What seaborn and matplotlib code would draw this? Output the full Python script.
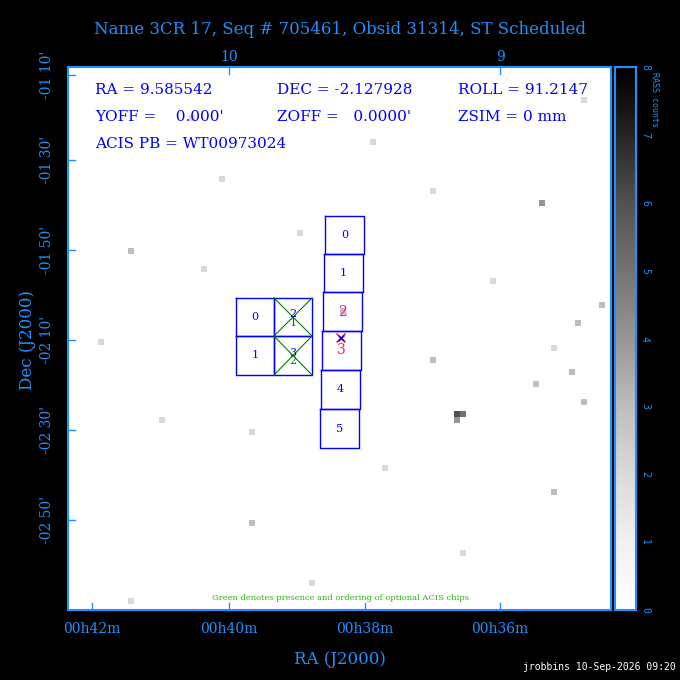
import numpy as np
import matplotlib
matplotlib.use("Agg")
import matplotlib.pyplot as plt
import seaborn as sns

# ---- data ----
ra_labels = ["00h42m", "00h40m", "00h38m", "00h36m"]
ra_label_px = [92, 229, 365, 500]
dec_labels = ["-01 10'", "-01 30'", "-01 50'", "-02 10'", "-02 30'", "-02 50'"]
dec_label_px = [75, 160, 250, 340, 430, 520]
top_labels = ["10", "9"]
top_label_px = [229, 500]
cbar_ticks = [0, 1, 2, 3, 4, 5, 6, 7, 8]
# notable RASS count pixels: (row, col, counts) on a 90x90 grid
bright_cells = [(57, 64, 6), (57, 65, 5), (58, 64, 4), (40, 45, 3), (22, 78, 4), (55, 85, 3),
                (30, 10, 3), (75, 30, 3), (12, 50, 2), (48, 60, 3), (70, 80, 3), (18, 25, 2),
                (85, 40, 2), (35, 70, 2), (58, 15, 2), (80, 65, 2), (5, 85, 2), (45, 5, 2),
                (66, 52, 2), (27, 38, 2), (52, 77, 3), (8, 20, 2), (88, 10, 2), (39, 88, 3),
                (42, 84, 3), (50, 83, 3), (46, 80, 2), (60, 30, 2), (20, 60, 2), (33, 22, 2)]
# chip layouts (reference pixel corners: x0, y0, x1, y1)
acis_i = [("0", 236, 298, 274, 336), ("2", 274, 298, 312, 336),
          ("1", 236, 336, 274, 375), ("3", 274, 336, 312, 375)]
acis_s = [("0", 325, 216, 364, 254), ("1", 324, 254, 363, 292), ("2", 323, 292, 362, 331),
          ("3", 322, 331, 361, 370), ("4", 321, 370, 360, 409), ("5", 320, 409, 359, 448)]
s_label_colors = ["blue", "blue", "#ff1493", "#ff1493", "blue", "blue"]

N = 90
grid = np.zeros((N, N))
for r, c, v in bright_cells:
    grid[r, c] = v

BLUE = "#1e90ff"
W = 680
fig = plt.figure(figsize=(6.8, 6.8), dpi=100, facecolor="black")
plt.rcParams["font.family"] = ["DejaVu Serif"]

def ax_rect(x0, y0, x1, y1):
    return [x0 / W, 1 - y1 / W, (x1 - x0) / W, (y1 - y0) / W]

ax = fig.add_axes(ax_rect(68, 67, 611, 610))
sns.heatmap(grid, ax=ax, cmap="Greys", vmin=0, vmax=8, cbar=False, xticklabels=False, yticklabels=False)

cax = fig.add_axes(ax_rect(615, 67, 636, 610))
sns.heatmap(np.linspace(0, 8, 200)[::-1].reshape(-1, 1), ax=cax, cmap="Greys", vmin=0, vmax=8,
            cbar=False, xticklabels=False, yticklabels=False)
for a in (ax, cax):
    for s in a.spines.values():
        s.set_visible(True); s.set_color(BLUE); s.set_linewidth(1.5)
for t in cbar_ticks:
    y = 610 - t * (543 / 8)
    fig.text(645 / W, 1 - y / W, str(t), color=BLUE, fontsize=7, rotation=270, ha="center", va="center",
             family="DejaVu Sans Mono")
fig.text(655 / W, 1 - 100 / W, "RASS counts", color=BLUE, fontsize=6, rotation=270, ha="center", va="center",
         family="DejaVu Sans Mono")

ov = fig.add_axes(ax_rect(68, 67, 611, 610), facecolor="none")
ov.set_xlim(68, 611); ov.set_ylim(610, 67)
ov.axis("off")
for lab, x0, y0, x1, y1 in acis_i:
    ov.plot([x0, x1, x1, x0, x0], [y0, y0, y1, y1, y0], color="blue", lw=1)
    if lab in ("2", "3"):
        ov.plot([x0, x1], [y0, y1], color="green", lw=0.8)
        ov.plot([x0, x1], [y1, y0], color="green", lw=0.8)
        ov.text((x0 + x1) / 2, (y0 + y1) / 2 - 3, lab, color="blue", fontsize=8, ha="center", va="center")
        ov.text((x0 + x1) / 2, (y0 + y1) / 2 + 6, "1" if lab == "2" else "2", color="green", fontsize=8,
                ha="center", va="center")
    else:
        ov.text((x0 + x1) / 2, (y0 + y1) / 2, lab, color="blue", fontsize=8, ha="center", va="center")
for (lab, x0, y0, x1, y1), col in zip(acis_s, s_label_colors):
    ov.plot([x0, x1, x1, x0, x0], [y0, y0, y1, y1, y0], color="blue", lw=1)
    ov.text((x0 + x1) / 2, (y0 + y1) / 2, lab, color=col, fontsize=10 if col != "blue" else 8,
            ha="center", va="center")
ov.plot([337, 345], [334, 342], color="red", lw=1); ov.plot([337, 345], [342, 334], color="red", lw=1)
ov.plot(341, 338, marker="x", color="blue", ms=4)

info = [("RA = 9.585542", 95, 90), ("DEC = -2.127928", 277, 90), ("ROLL = 91.2147", 458, 90),
        ("YOFF =    0.000'", 95, 117), ("ZOFF =   0.0000'", 277, 117), ("ZSIM = 0 mm", 458, 117),
        ("ACIS PB = WT00973024", 95, 144)]
for s, x, y in info:
    fig.text(x / W, 1 - y / W, s, color="blue", fontsize=11, va="center")
fig.text(340 / W, 1 - 598 / W, "Green denotes presence and ordering of optional ACIS chips",
         color="#22bb00", fontsize=6, ha="center", va="center")

fig.text(340 / W, 1 - 29 / W, "Name 3CR 17, Seq # 705461, Obsid 31314, ST Scheduled", color=BLUE,
         fontsize=12, ha="center", va="center")
for s, x in zip(ra_labels, ra_label_px):
    fig.text(x / W, 1 - 629 / W, s, color=BLUE, fontsize=10, ha="center", va="center")
    fig.add_artist(plt.Line2D([x / W, x / W], [1 - 610 / W, 1 - 603 / W], color=BLUE, lw=1))
for s, x in zip(top_labels, top_label_px):
    fig.text(x / W, 1 - 57 / W, s, color=BLUE, fontsize=10, ha="center", va="center")
    fig.add_artist(plt.Line2D([x / W, x / W], [1 - 67 / W, 1 - 74 / W], color=BLUE, lw=1))
for s, y in zip(dec_labels, dec_label_px):
    fig.text(47 / W, 1 - y / W, s, color=BLUE, fontsize=10, rotation=90, ha="center", va="center")
    fig.add_artist(plt.Line2D([68 / W, 75 / W], [1 - y / W, 1 - y / W], color=BLUE, lw=1))
fig.text(340 / W, 1 - 660 / W, "RA (J2000)", color=BLUE, fontsize=12, ha="center", va="center")
fig.text(28 / W, 1 - 340 / W, "Dec (J2000)", color=BLUE, fontsize=12, rotation=90, ha="center", va="center")
fig.text(676 / W, 1 - 667 / W, "jrobbins 10-Sep-2026 09:20", color="white", fontsize=7, ha="right",
         va="center", family="DejaVu Sans Mono")

fig.savefig("out.png", dpi=100, facecolor="black")
